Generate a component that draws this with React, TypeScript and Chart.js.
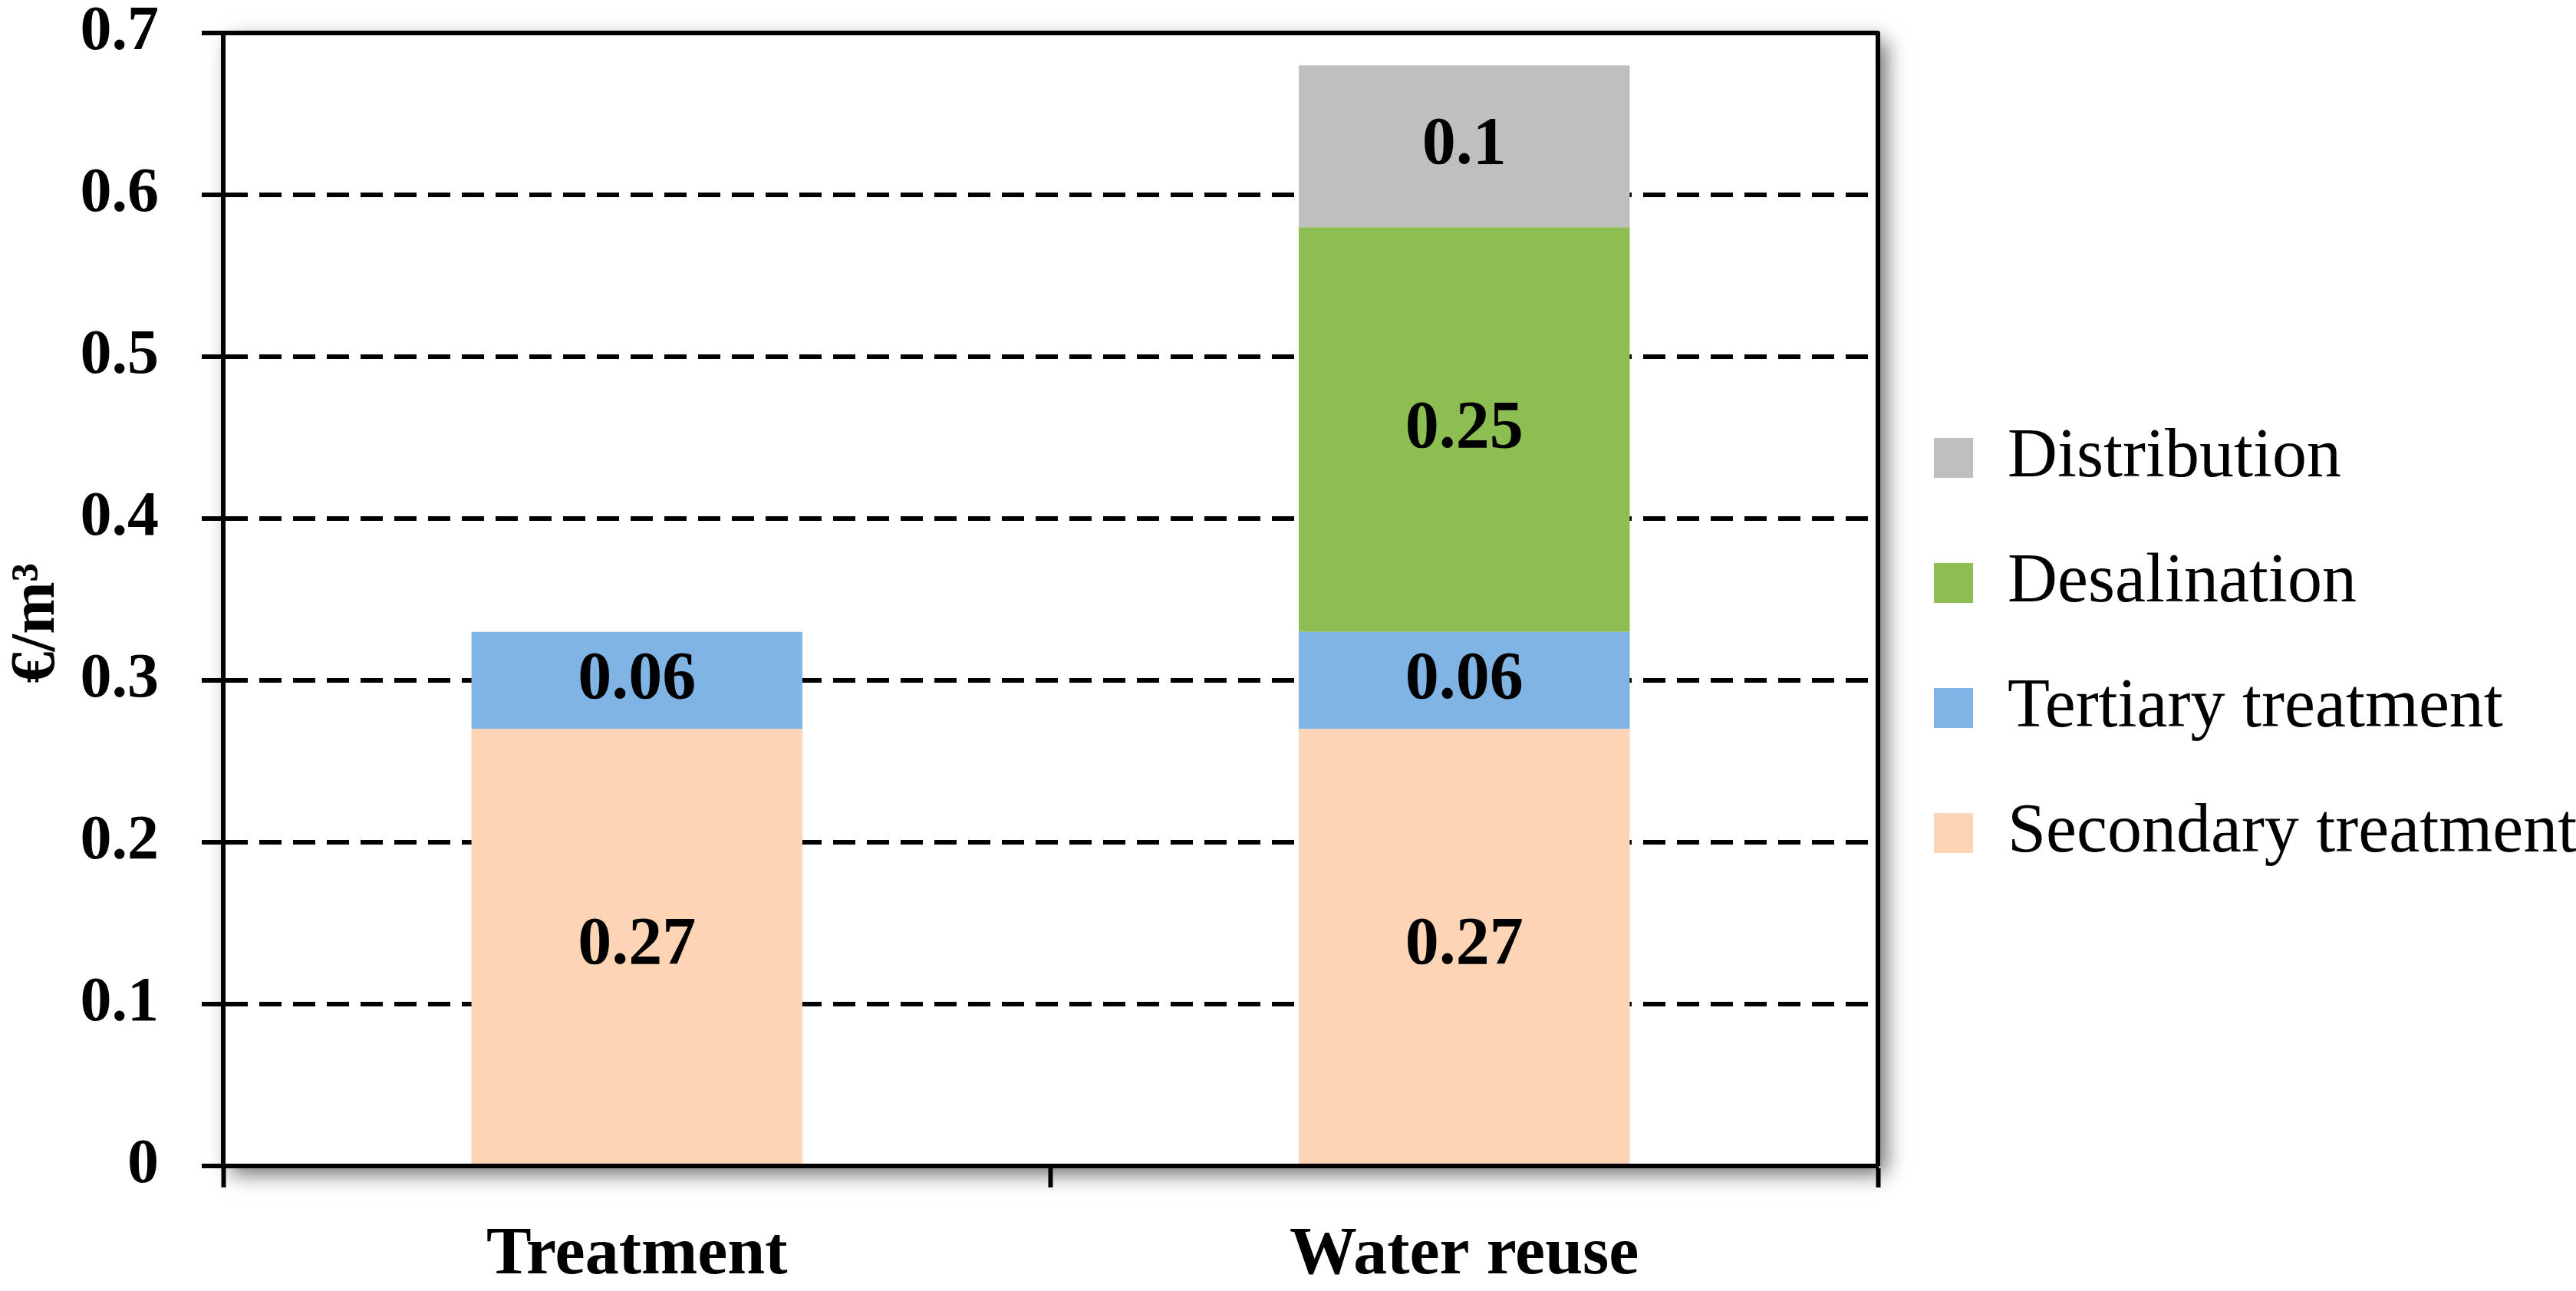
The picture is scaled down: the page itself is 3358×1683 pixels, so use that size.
import { useEffect, useRef } from "react";
import { Chart, registerables } from "chart.js";
Chart.register(...registerables);

const categories = ["Treatment", "Water reuse"];
const secondary = [0.27, 0.27];
const tertiary = [0.06, 0.06];
const desalination = [null, 0.25];
const distribution = [null, 0.1];
const yTickLabels = ["0", "0.1", "0.2", "0.3", "0.4", "0.5", "0.6", "0.7"];

const SERIF = "'Liberation Serif', 'Times New Roman', serif";

// soft shadow behind the plot area, like the Excel original
const shadowPlugin = {
  id: "plotShadow",
  beforeDraw: (chart: any) => {
    const { ctx, chartArea } = chart;
    ctx.save();
    ctx.shadowColor = "rgba(0,0,0,0.6)";
    ctx.shadowBlur = 26;
    ctx.shadowOffsetX = 10;
    ctx.shadowOffsetY = 10;
    ctx.fillStyle = "#fff";
    ctx.fillRect(chartArea.left, chartArea.top, chartArea.width, chartArea.height);
    ctx.restore();
  },
};

// top and right frame lines
const framePlugin = {
  id: "plotFrame",
  afterDraw: (chart: any) => {
    const { ctx, chartArea } = chart;
    ctx.save();
    ctx.strokeStyle = "#000";
    ctx.lineWidth = 6;
    ctx.lineJoin = "round";
    ctx.beginPath();
    ctx.moveTo(chartArea.left, chartArea.top);
    ctx.lineTo(chartArea.right, chartArea.top);
    ctx.lineTo(chartArea.right, chartArea.bottom);
    ctx.stroke();
    ctx.restore();
  },
};

const valueLabels = {
  id: "valueLabels",
  afterDatasetsDraw: (chart: any) => {
    const ctx = chart.ctx;
    ctx.save();
    ctx.font = `bold 88px ${SERIF}`;
    ctx.fillStyle = "#000";
    ctx.textAlign = "center";
    ctx.textBaseline = "middle";
    chart.data.datasets.forEach((ds: any, i: number) => {
      const meta = chart.getDatasetMeta(i);
      meta.data.forEach((bar: any, j: number) => {
        const v = ds.data[j];
        if (v == null || v === 0) return;
        ctx.fillText(String(v), bar.x, (bar.y + bar.base) / 2);
      });
    });
    ctx.restore();
  },
};

const App = () => {
  const canvasRef = useRef<HTMLCanvasElement>(null);
  const chartRef = useRef<Chart | null>(null);

  useEffect(() => {
    document.body.style.margin = "0";
    if (chartRef.current) {
      chartRef.current.destroy();
      chartRef.current = null;
    }

    chartRef.current = new Chart(canvasRef.current!, {
      type: "bar",
      data: {
        labels: categories,
        datasets: [
          { label: "Secondary treatment", data: secondary, backgroundColor: "#FDD5B4", borderWidth: 0 },
          { label: "Tertiary treatment", data: tertiary, backgroundColor: "#7FB4E5", borderWidth: 0 },
          { label: "Desalination", data: desalination as any, backgroundColor: "#8DBE51", borderWidth: 0 },
          { label: "Distribution", data: distribution as any, backgroundColor: "#BFBFBF", borderWidth: 0 },
        ],
      },
      options: {
        responsive: true,
        maintainAspectRatio: false,
        animation: false,
        layout: { padding: 0 },
        datasets: { bar: { barPercentage: 0.4, categoryPercentage: 1 } },
        plugins: {
          tooltip: { enabled: false },
          legend: {
            position: "right",
            reverse: true,
            maxWidth: 910,
            labels: {
              color: "#000",
              font: { family: SERIF, size: 90 },
              boxWidth: 51,
              boxHeight: 52,
              padding: 73,
            },
          },
        },
        scales: {
          x: {
            stacked: true,
            offset: true,
            grid: {
              display: true,
              offset: true,
              drawOnChartArea: false,
              drawTicks: true,
              tickLength: 28,
              tickWidth: 6,
              tickColor: "#000",
            },
            border: { display: true, color: "#000", width: 6 },
            ticks: {
              color: "#000",
              padding: 36,
              font: { family: SERIF, size: 88, weight: "bold" },
            },
            afterFit: (scale: any) => {
              scale.height = 163;
              scale.paddingLeft = 0;
              scale.paddingRight = 0;
            },
          },
          y: {
            stacked: true,
            min: 0,
            max: 0.7,
            grid: {
              color: "#000",
              lineWidth: 6,
              tickLength: 28,
              tickWidth: 6,
              tickColor: "#000",
            },
            border: { display: true, color: "#000", width: 6, dash: [29, 15] },
            ticks: {
              stepSize: 0.1,
              color: "#000",
              padding: 56,
              font: { family: SERIF, size: 82, weight: "bold" },
              callback: (_v: any, i: number) => yTickLabels[i],
            },
            title: {
              display: true,
              text: "€/m³   ",
              color: "#000",
              padding: { top: 0, bottom: 8 },
              font: { family: SERIF, size: 82, weight: "bold" },
            },
            afterFit: (scale: any) => {
              scale.width = 291;
              scale.paddingTop = 43;
              scale.paddingBottom = 0;
            },
          },
        },
      },
      plugins: [shadowPlugin, valueLabels, framePlugin],
    });

    return () => {
      if (chartRef.current) {
        chartRef.current.destroy();
        chartRef.current = null;
      }
    };
  }, []);

  return (
    <div style={{ width: "3358px", height: "1683px", position: "relative", background: "#fff" }}>
      <canvas ref={canvasRef} />
    </div>
  );
};

export default App;
